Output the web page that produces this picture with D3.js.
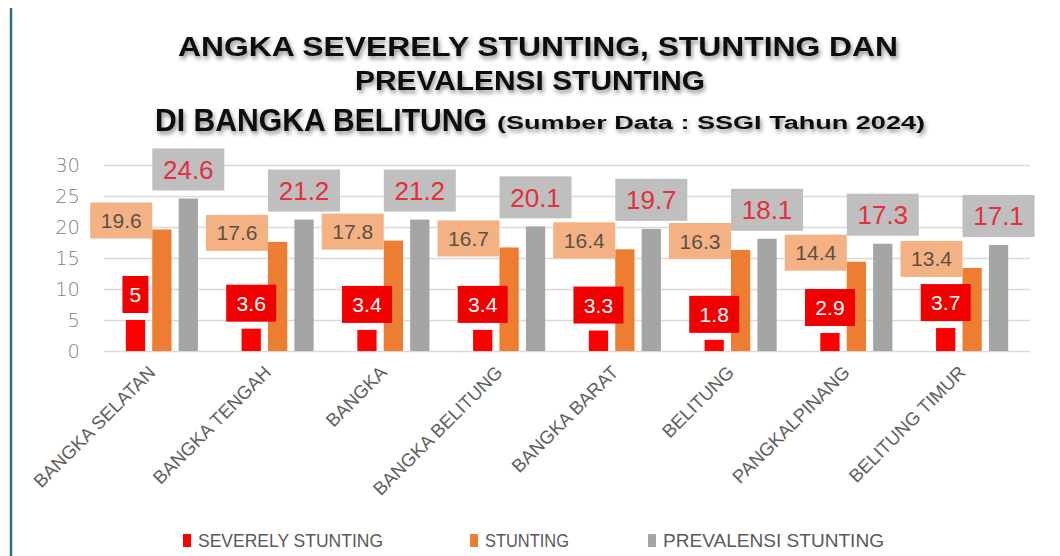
<!DOCTYPE html>
<meta charset="utf-8">
<script src="https://d3js.org/d3.v7.min.js"></script>
<style>
  body { margin: 0; background: #fff; }
</style>
<div id="chart"></div>
<script>
  // data
  const categories = ["BANGKA SELATAN", "BANGKA TENGAH", "BANGKA", "BANGKA BELITUNG",
    "BANGKA BARAT", "BELITUNG", "PANGKALPINANG", "BELITUNG TIMUR"];
  const severelyStunting = [5, 3.6, 3.4, 3.4, 3.3, 1.8, 2.9, 3.7];
  const stunting = [19.6, 17.6, 17.8, 16.7, 16.4, 16.3, 14.4, 13.4];
  const prevalensi = [24.6, 21.2, 21.2, 20.1, 19.7, 18.1, 17.3, 17.1];
  const seriesNames = ["SEVERELY STUNTING", "STUNTING", "PREVALENSI STUNTING"];
  const yTicks = [0, 5, 10, 15, 20, 25, 30];

  const colors = ["#ff0000", "#ed7d31", "#a5a5a5"];
  const W = 1060, H = 556;

  const svg = d3.select("#chart").append("svg")
    .attr("width", W).attr("height", H)
    .style("font-family", "'Liberation Sans', Arial, sans-serif");

  // drop shadow for the title
  const defs = svg.append("defs");
  const f = defs.append("filter").attr("id", "shadow")
    .attr("x", "-5%").attr("y", "-20%").attr("width", "110%").attr("height", "160%");
  f.append("feDropShadow").attr("dx", 1.5).attr("dy", 3).attr("stdDeviation", 2)
    .attr("flood-color", "#000").attr("flood-opacity", 0.45);

  // slide border on the left
  svg.append("line").attr("x1", 11).attr("x2", 11).attr("y1", 8).attr("y2", H)
    .attr("stroke", "#2f6f84").attr("stroke-width", 2.5);

  // title
  const title = svg.append("g").attr("filter", "url(#shadow)")
    .style("font-weight", "bold").attr("fill", "#111");
  title.append("text").attr("x", 178).attr("y", 56)
    .attr("font-size", 27).attr("textLength", 720).attr("lengthAdjust", "spacingAndGlyphs")
    .text("ANGKA SEVERELY STUNTING, STUNTING DAN");
  title.append("text").attr("x", 355).attr("y", 90)
    .attr("font-size", 27).attr("textLength", 350).attr("lengthAdjust", "spacingAndGlyphs")
    .text("PREVALENSI STUNTING");
  title.append("text").attr("x", 155).attr("y", 131)
    .attr("font-size", 32).attr("textLength", 332).attr("lengthAdjust", "spacingAndGlyphs")
    .text("DI BANGKA BELITUNG");
  title.append("text").attr("x", 497).attr("y", 129)
    .attr("font-size", 18).attr("textLength", 428).attr("lengthAdjust", "spacingAndGlyphs")
    .text("(Sumber Data : SSGI Tahun 2024)");

  // scales
  const x0 = d3.scaleBand().domain(categories).range([104, 1030])
    .paddingInner(0.377).paddingOuter(0.1885);
  const x1 = d3.scaleBand().domain(seriesNames).range([0, x0.bandwidth()]).paddingInner(0.27);
  const y = d3.scaleLinear().domain([0, 30]).range([351, 165]);

  // grid + y axis
  const yAxis = svg.append("g").attr("transform", "translate(104,0)")
    .call(d3.axisLeft(y).tickValues(yTicks).tickSize(-926).tickPadding(24));
  yAxis.select(".domain").remove();
  yAxis.selectAll(".tick line").attr("stroke", "#d9d9d9").attr("stroke-width", 1.5);
  yAxis.selectAll(".tick text").attr("fill", "#808080").attr("font-size", 19.5)
    .style("font-family", "'DejaVu Sans', sans-serif").style("font-weight", 300);

  // x axis labels
  const xAxis = svg.append("g").attr("transform", "translate(0,351)")
    .call(d3.axisBottom(x0).tickSize(0));
  xAxis.select(".domain").remove();
  xAxis.selectAll(".tick text")
    .attr("fill", "#606060").attr("font-size", 18.5)
    .style("font-family", "'Liberation Sans', Arial, sans-serif")
    .attr("text-anchor", "end")
    .attr("transform", "translate(-10,18) rotate(-45)")
    .attr("x", 0).attr("y", 0).attr("dy", "0.35em");

  const seriesValues = [severelyStunting, stunting, prevalensi];
  const rows = categories.map((c, i) => ({ c, vals: seriesValues.map(s => s[i]) }));

  const groups = svg.selectAll(".grp").data(rows).join("g")
    .attr("transform", d => `translate(${x0(d.c)},0)`);

  groups.selectAll("rect.bar")
    .data(d => d.vals.map((v, k) => ({ v, k })))
    .join("rect").attr("class", "bar")
    .attr("x", d => x1(seriesNames[d.k]))
    .attr("width", x1.bandwidth())
    .attr("y", d => y(d.v))
    .attr("height", d => y(0) - y(d.v))
    .attr("fill", d => colors[d.k]);

  // data labels
  groups.each(function (d) {
    const g = d3.select(this);
    const bw = x1.bandwidth();
    // prevalensi
    const cx2 = x1(seriesNames[2]) + bw / 2;
    const top2 = y(d.vals[2]);
    g.append("rect").attr("x", cx2 - 36).attr("y", top2 - 50).attr("width", 72).attr("height", 42)
      .attr("fill", "#bfbfbf");
    g.append("text").attr("x", cx2).attr("y", top2 - 29).attr("dy", "0.36em")
      .attr("text-anchor", "middle").attr("font-size", 26).attr("fill", "#e3303c")
      .text(d3.format(".1f")(d.vals[2]));

    // stunting
    const left1 = x1(seriesNames[1]);
    const top1 = y(d.vals[1]);
    g.append("rect").attr("x", left1 - 62).attr("y", top1 - 27).attr("width", 62).attr("height", 36)
      .attr("fill", "#f4b183");
    g.append("text").attr("x", left1 - 31).attr("y", top1 - 9).attr("dy", "0.36em")
      .attr("text-anchor", "middle").attr("font-size", 21).attr("fill", "#5b5148")
      .text(d3.format(".1f")(d.vals[1]));

    // severely
    const cx0 = x1(seriesNames[0]) + bw / 2;
    const top0 = y(d.vals[0]);
    const txt = String(d.vals[0]);
    const w0 = txt.length > 1 ? 50 : 26;
    g.append("rect").attr("x", cx0 - w0 / 2).attr("y", top0 - 44).attr("width", w0).attr("height", 37)
      .attr("fill", "#f00000");
    g.append("text").attr("x", cx0).attr("y", top0 - 25.5).attr("dy", "0.36em")
      .attr("text-anchor", "middle").attr("font-size", 21).attr("fill", "#fff")
      .text(txt);
  });

  // legend
  const legendX = [183, 470, 648];
  const legendW = [185, 84, 221];
  const lg = svg.append("g");
  seriesNames.forEach((s, k) => {
    lg.append("rect").attr("x", legendX[k]).attr("y", 534).attr("width", 8).attr("height", 13)
      .attr("fill", colors[k]);
    lg.append("text").attr("x", legendX[k] + 15).attr("y", 541).attr("dy", "0.36em")
      .attr("font-size", 18).attr("fill", "#595959")
      .attr("textLength", legendW[k]).attr("lengthAdjust", "spacingAndGlyphs")
      .text(s);
  });
</script>
